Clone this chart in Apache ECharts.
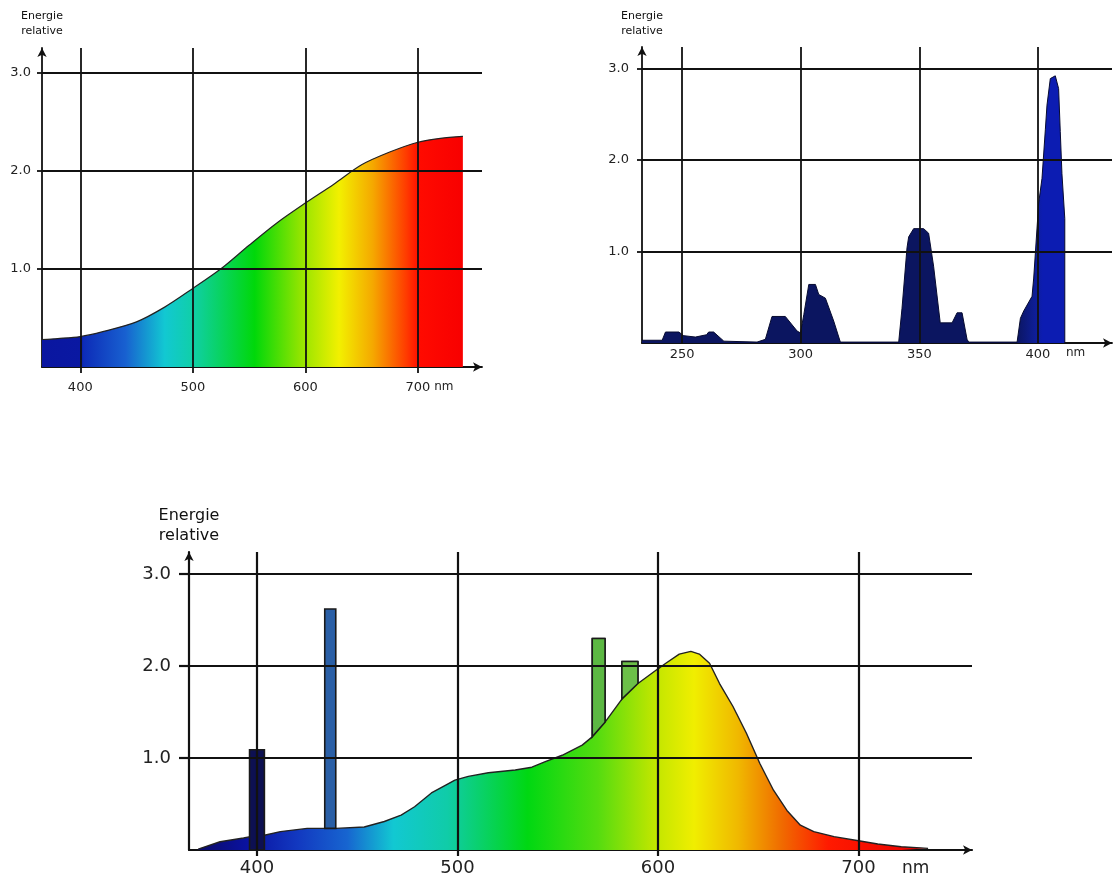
<!DOCTYPE html>
<html>
<head>
<meta charset="utf-8">
<script src="https://cdn.jsdelivr.net/npm/echarts@6/dist/echarts.min.js"></script>
<style>
html,body{margin:0;padding:0;background:#fff;}
#chart{width:1119px;height:876px;}
</style>
</head>
<body>
<div id="chart"></div>
<script>
// ---------------- DATA ----------------
// Chart 1 (top-left): continuous spectrum
const c1Wavelength = [366, 380, 400, 420, 450, 475, 500, 525, 550, 575, 600, 625, 650, 675, 700, 720, 740];
const c1Energy     = [0.28, 0.29, 0.31, 0.36, 0.46, 0.61, 0.80, 1.00, 1.24, 1.47, 1.67, 1.86, 2.06, 2.19, 2.29, 2.33, 2.35];
const c1XTicks = [400, 500, 600, 700];

// Chart 2 (top-right): UV line spectrum
const c2Wavelength = [233.1, 241.6, 243.0, 248.6, 250.7, 255.6, 256.3, 260.3, 261.2, 263.3, 267.6, 281.6, 285.1, 287.9, 293.5, 298.5, 299.9, 301.3, 303.4, 306.2, 307.6, 310.4, 313.9, 316.7, 341.3, 342.7, 344.8, 345.5, 347.6, 351.8, 353.9, 356.0, 358.8, 363.8, 365.9, 368.0, 370.1, 370.8, 391.2, 392.6, 394.0, 397.5, 398.2, 400.3, 401.7, 403.1, 403.8, 405.2, 407.3, 408.7, 409.4, 410.1, 411.3, 411.3];
const c2Energy     = [0.03, 0.03, 0.12, 0.12, 0.08, 0.065, 0.08, 0.09, 0.12, 0.12, 0.02, 0.01, 0.04, 0.29, 0.29, 0.13, 0.11, 0.31, 0.64, 0.64, 0.53, 0.49, 0.24, 0.01, 0.01, 0.38, 1.04, 1.16, 1.25, 1.25, 1.2, 0.84, 0.22, 0.22, 0.33, 0.33, 0.04, 0.01, 0.01, 0.27, 0.35, 0.51, 0.71, 1.53, 1.8, 2.33, 2.6, 2.89, 2.92, 2.78, 2.31, 1.85, 1.36, 0];
const c2XTicks = [250, 300, 350, 400];

// Chart 3 (bottom): fluorescent lamp spectrum
const c3Wavelength = [370.7, 381.6, 393.3, 396.7, 403.7, 411.7, 425.0, 439.3, 453.5, 463.5, 471.9, 478.6, 487.0, 495.3, 498.7, 505.4, 515.4, 528.8, 537.1, 543.8, 552.2, 562.2, 567.2, 567.2, 573.6, 573.6, 582.0, 582.0, 590.0, 590.0, 600.0, 603.9, 610.6, 616.4, 620.6, 625.7, 630.7, 637.4, 644.1, 650.8, 657.6, 664.3, 671.0, 677.7, 687.8, 700.0, 709.6, 721.3, 734.7];
const c3Energy     = [0.01, 0.09, 0.13, 0.145, 0.16, 0.2, 0.235, 0.235, 0.25, 0.31, 0.38, 0.47, 0.62, 0.72, 0.76, 0.8, 0.84, 0.87, 0.9, 0.96, 1.03, 1.14, 1.23, 2.3, 2.3, 1.39, 1.64, 2.05, 2.05, 1.81, 1.97, 2.03, 2.13, 2.16, 2.13, 2.03, 1.81, 1.56, 1.27, 0.94, 0.65, 0.43, 0.27, 0.2, 0.145, 0.1, 0.065, 0.036, 0.018];
const c3XTicks = [400, 500, 600, 700];
// mercury line spikes
const spikeStart      = [396.3, 433.8, 567.2, 582.0];
const spikeEnd        = [403.7, 439.3, 573.6, 590.0];
const spikeBaseLeft   = [0, 0.235, 1.23, 1.64];
const spikeBaseRight  = [0, 0.235, 1.39, 1.81];
const spikeTop        = [1.09, 2.62, 2.30, 2.05];

const yTicks = [1, 2, 3];

// ---------------- STYLE ----------------
const spikeColors = ['#0d1052', '#2a5fa6', '#5cb843', '#6cbf48'];
const spectrum1 = [[366,'#0a16a0'],[400,'#0a18a2'],[403,'#0d2cb8'],[440,'#1860d0'],[475,'#12c8d2'],[500,'#10cfa8'],[555,'#00d80a'],[595,'#90e400'],[630,'#f2f000'],[660,'#f5a800'],[690,'#ff3a00'],[702,'#ff0a00'],[740,'#f80000']];
const spectrum2 = [[233,'#0b1560'],[391,'#0b1560'],[399,'#0e1e98'],[402,'#0c1cb2'],[412,'#0c1cb2']];
const spectrum3 = [[370,'#0a0a68'],[395,'#0a12a0'],[420,'#1238c0'],[445,'#1765d0'],[468,'#12c8d2'],[495,'#10cca8'],[535,'#00d812'],[570,'#55dc10'],[598,'#c0e600'],[618,'#f0ee00'],[640,'#f0b800'],[662,'#f06a00'],[685,'#ff1a00'],[735,'#e80000']];
const FONT = 'DejaVu Sans';
const INK = '#111111';

function gradientFor(spec, xs) {
  const lo = Math.min(...xs), hi = Math.max(...xs);
  const stops = [];
  spec.forEach(([nm, c]) => {
    let o = (nm - lo) / (hi - lo);
    o = Math.max(0, Math.min(1, o));
    stops.push({offset: o, color: c});
  });
  return new echarts.graphic.LinearGradient(0, 0, 1, 0, stops);
}
const pairs = (xs, ys) => xs.map((x, i) => [x, ys[i]]);

function xAxisFor(idx, min, max, ticks, fs, margin, nameGap, namePad, tickLen, lw) {
  return {
    type: 'value', gridIndex: idx, min: min, max: max,
    splitLine: {show: false},
    axisLine: {show: true, onZero: false, symbol: ['none', 'arrow'], symbolSize: [7, 9], lineStyle: {color: INK, width: lw}},
    axisTick: {show: true, customValues: ticks, length: tickLen, lineStyle: {color: INK, width: lw}},
    axisLabel: {customValues: ticks, color: '#222', fontFamily: FONT, fontSize: fs, margin: margin},
    name: 'nm', nameLocation: 'end', nameGap: nameGap,
    nameTextStyle: {color: '#222', fontFamily: FONT, fontSize: fs - 1, verticalAlign: 'top', align: 'left', padding: [namePad, 0, 0, 0]}
  };
}
function yAxisFor(idx, max, fs, margin, nameFs, nameGap, tickLen, lw) {
  return {
    type: 'value', gridIndex: idx, min: 0, max: max,
    splitLine: {show: false},
    axisLine: {show: true, symbol: ['none', 'arrow'], symbolSize: [7, 9], lineStyle: {color: INK, width: lw}},
    axisTick: {show: true, customValues: yTicks, length: tickLen, lineStyle: {color: INK, width: lw}},
    axisLabel: {customValues: yTicks, formatter: v => v.toFixed(1), color: '#222', fontFamily: FONT, fontSize: fs, margin: margin},
    name: 'Energie\nrelative', nameLocation: 'end', nameGap: nameGap,
    nameTextStyle: {color: '#111', fontFamily: FONT, fontSize: nameFs, lineHeight: nameFs + 4, align: 'center'}
  };
}
function gridLines(idx, xticks, lw) {
  return {
    type: 'line', xAxisIndex: idx, yAxisIndex: idx, data: [], z: 10, silent: true,
    markLine: {
      silent: true, animation: false, symbol: ['none', 'none'], label: {show: false},
      lineStyle: {color: INK, width: lw, type: 'solid'},
      emphasis: {disabled: true},
      data: xticks.map(v => ({xAxis: v})).concat(yTicks.map(v => ({yAxis: v})))
    }
  };
}

const chart = echarts.init(document.getElementById('chart'), null, {renderer: 'canvas'});
const option = {
  animation: false,
  backgroundColor: '#ffffff',
  grid: [
    {left: 42, top: 48, width: 440, height: 319, outerBoundsMode: 'none', containLabel: false},
    {left: 642, top: 47, width: 470, height: 296, outerBoundsMode: 'none', containLabel: false},
    {left: 189, top: 552, width: 783, height: 298, outerBoundsMode: 'none', containLabel: false}
  ],
  xAxis: [
    xAxisFor(0, 366, 757, c1XTicks, 13, 14, -48, 14, 6, 1.8),
    xAxisFor(1, 233.1, 431.2, c2XTicks, 13, 5, -46, 4, 0, 1.8),
    xAxisFor(2, 366.1, 756.6, c3XTicks, 18, 9, -70, 10, 6, 2.2)
  ],
  yAxis: [
    yAxisFor(0, 3.25, 13, 11, 11, 9, 5, 1.8),
    yAxisFor(1, 3.235, 13, 13, 11, 8, 5, 1.8),
    yAxisFor(2, 3.24, 18, 18, 16, 6, 10, 2.2)
  ],
  series: [
    {
      type: 'line', xAxisIndex: 0, yAxisIndex: 0, data: pairs(c1Wavelength, c1Energy),
      smooth: 0.3, symbol: 'none', z: 2,
      lineStyle: {color: '#222', width: 1.2},
      areaStyle: {color: gradientFor(spectrum1, c1Wavelength), opacity: 1}
    },
    {
      type: 'line', xAxisIndex: 1, yAxisIndex: 1, data: pairs(c2Wavelength, c2Energy),
      symbol: 'none', z: 2,
      lineStyle: {color: '#070b30', width: 1},
      areaStyle: {color: gradientFor(spectrum2, c2Wavelength), opacity: 1}
    },
    {
      type: 'line', xAxisIndex: 2, yAxisIndex: 2, data: pairs(c3Wavelength, c3Energy),
      symbol: 'none', z: 2,
      lineStyle: {color: '#222', width: 1.4},
      areaStyle: {color: gradientFor(spectrum3, c3Wavelength), opacity: 1}
    },
    {
      type: 'custom', xAxisIndex: 2, yAxisIndex: 2, z: 3,
      encode: {x: [0, 1], y: [2, 3, 4]},
      data: spikeStart.map((s, i) => ({
        value: [s, spikeEnd[i], spikeBaseLeft[i], spikeBaseRight[i], spikeTop[i]],
        itemStyle: {color: spikeColors[i]}
      })),
      renderItem: function (params, api) {
        const x0 = api.value(0), x1 = api.value(1);
        const pts = [
          api.coord([x0, api.value(2)]),
          api.coord([x0, api.value(4)]),
          api.coord([x1, api.value(4)]),
          api.coord([x1, api.value(3)])
        ];
        return {
          type: 'polygon',
          shape: {points: pts},
          style: {fill: api.visual('color'), stroke: '#1a1a1a', lineWidth: 1.6}
        };
      }
    },
    gridLines(0, c1XTicks, 1.8),
    gridLines(1, c2XTicks, 1.8),
    gridLines(2, c3XTicks, 2.2)
  ]
};
chart.setOption(option);
</script>
</body>
</html>
